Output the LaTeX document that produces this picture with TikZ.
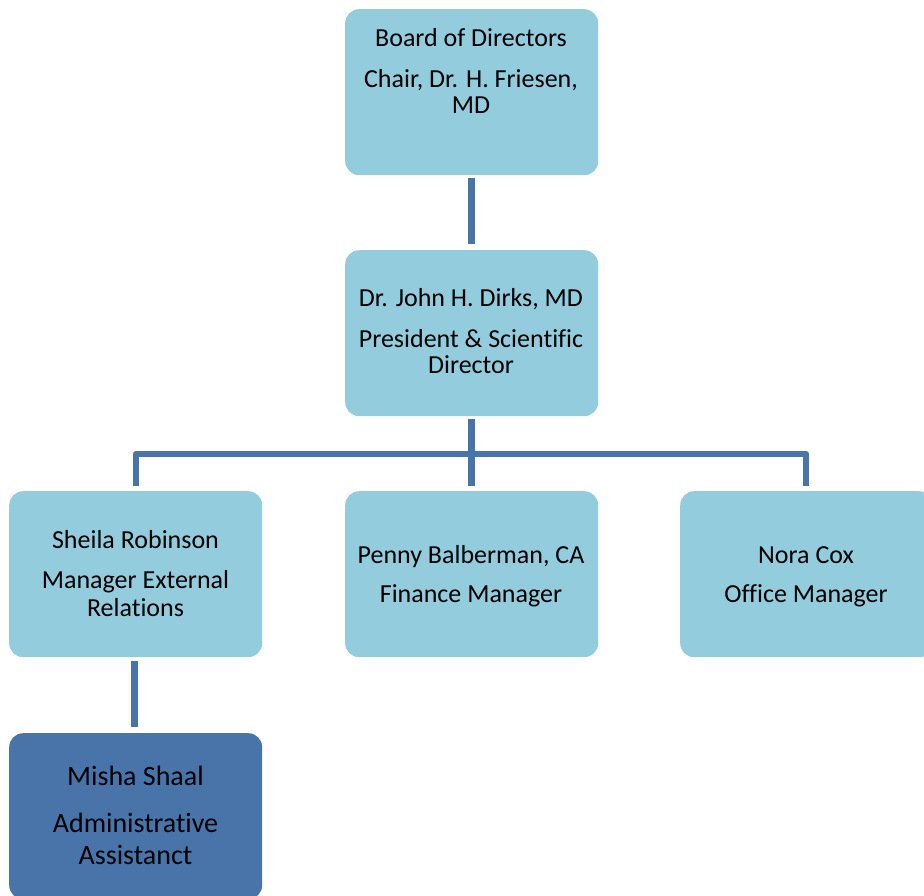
\documentclass[tikz,border=0pt]{standalone}
\usepackage{fontspec}
\setmainfont{Carlito}[Ligatures=NoCommon]
\definecolor{lightbox}{HTML}{93CDDD}
\definecolor{darkbox}{HTML}{4874AA}
\definecolor{linkcol}{HTML}{4874AA}
\tikzset{
  orgbox/.style={fill=lightbox, draw=none, rounded corners=14pt, minimum width=253pt, minimum height=166pt, inner sep=0pt, anchor=north west},
  darkorgbox/.style={orgbox, fill=darkbox},
  ln/.style={anchor=base, inner sep=0pt, font=\fontsize{26}{27}\selectfont, text=black},
  lnbig/.style={anchor=base, inner sep=0pt, font=\fontsize{28}{30}\selectfont, text=black},
  link/.style={draw=linkcol, line width=6.5pt, line join=round}
}
\begin{document}
\begin{tikzpicture}[x=1pt,y=-1pt]
\useasboundingbox (0,0) rectangle (924,895);
\begin{scope}
\clip (0,0) rectangle (924,895);
% boxes
\node[orgbox] (board) at (345,9) {};
\node[orgbox] (pres) at (345,250) {};
\node[orgbox] (sheila) at (9,491) {};
\node[orgbox] (penny) at (345,491) {};
\node[orgbox] (nora) at (680,491) {};
\node[darkorgbox] (misha) at (9,733) {};
% connector points
\coordinate (busL) at (136,454);
\coordinate (busR) at (806,454);
\draw[link] ([yshift=-3pt]board.south) -- ([yshift=6pt]pres.north);
\draw[link] ([yshift=-3pt]pres.south) -- ([yshift=5pt]penny.north);
\draw[link] ([yshift=5pt]sheila.north -| busL) -- (busL) -- (busR) -- ([yshift=5pt]nora.north -| busR);
\draw[link] ([xshift=-1pt,yshift=-4pt]sheila.south) -- ([xshift=-1pt,yshift=6pt]misha.north);
% texts
\node[ln] (t1) at (471,46) {Board of Directors};
\node[ln] (t2) at (471,87) {Chair, Dr. H. Friesen,};
\node[ln] (t3) at (471,113) {MD};
\node[ln] (t4) at (471,306) {Dr. John H. Dirks, MD};
\node[ln] (t5) at (471,347) {President \& Scientific};
\node[ln] (t6) at (471,373) {Director};
\node[ln] (t7) at (135.5,548) {Sheila Robinson};
\node[ln] (t8) at (135.5,588) {Manager External};
\node[ln] (t9) at (135.5,616) {Relations};
\node[ln] (t10) at (471,563) {Penny Balberman, CA};
\node[ln] (t11) at (471,602) {Finance Manager};
\node[ln] (t12) at (806,563) {Nora Cox};
\node[ln] (t13) at (806,602) {Office Manager};
\node[lnbig] (t14) at (135.5,785) {Misha Shaal};
\node[lnbig] (t15) at (135.5,832) {Administrative};
\node[lnbig] (t16) at (135.5,864) {Assistanct};
\end{scope}
\end{tikzpicture}
\end{document}
